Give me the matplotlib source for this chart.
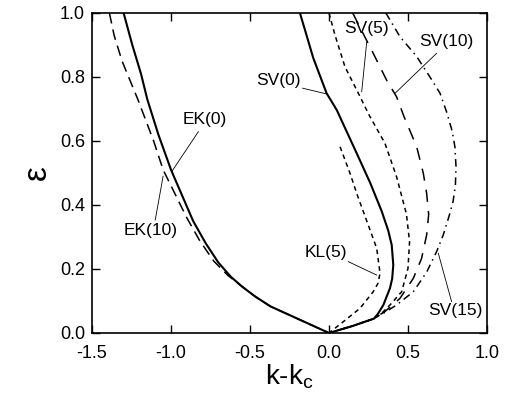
# 色散曲线图 (k-kc, epsilon)
import matplotlib.pyplot as plt

plt.rcParams['font.family'] = ['Liberation Sans', 'DejaVu Sans']

# 曲线数据
ek0_x = [-1.30, -1.245, -1.19, -1.15, -1.08, -1.00, -0.93, -0.86, -0.78, -0.70, -0.62, -0.55, -0.47, -0.37, 0.0]
ek0_y = [1.0, 0.90, 0.81, 0.73, 0.62, 0.51, 0.43, 0.35, 0.28, 0.22, 0.175, 0.145, 0.115, 0.083, 0.0]

ek10_x = [-1.39, -1.36, -1.31, -1.21, -1.11, -1.05, -0.98, -0.90, -0.82, -0.73, -0.64, -0.55, -0.47, -0.37, 0.0]
ek10_y = [1.0, 0.93, 0.85, 0.73, 0.60, 0.51, 0.44, 0.36, 0.29, 0.225, 0.18, 0.145, 0.115, 0.083, 0.0]

sv0_x = [-0.184, -0.152, -0.10, -0.015, 0.049, 0.175, 0.26, 0.334, 0.375, 0.397, 0.407, 0.40, 0.386, 0.344, 0.31, 0.285, 0.15, 0.0]
sv0_y = [1.0, 0.947, 0.86, 0.749, 0.697, 0.562, 0.47, 0.38, 0.32, 0.275, 0.2125, 0.17, 0.14, 0.0875, 0.06, 0.045, 0.022, 0.0]

kl5_x = [0.07, 0.133, 0.18, 0.228, 0.302, 0.323, 0.31, 0.28, 0.196, 0.09, 0.0]
kl5_y = [0.582, 0.499, 0.43, 0.365, 0.265, 0.187, 0.155, 0.129, 0.077, 0.035, 0.0]

sv5_x = [0.0, 0.038, 0.101, 0.186, 0.255, 0.354, 0.428, 0.49, 0.51, 0.50, 0.46, 0.386, 0.33, 0.285, 0.15, 0.0]
sv5_y = [1.0, 0.931, 0.832, 0.749, 0.68, 0.593, 0.488, 0.372, 0.285, 0.202, 0.129, 0.0875, 0.06, 0.045, 0.022, 0.0]

sv10_x = [0.15, 0.28, 0.365, 0.428, 0.475, 0.555, 0.597, 0.618, 0.631, 0.618, 0.586, 0.534, 0.449, 0.354, 0.30, 0.285, 0.15, 0.0]
sv10_y = [1.0, 0.874, 0.79, 0.738, 0.676, 0.582, 0.499, 0.437, 0.37, 0.306, 0.233, 0.171, 0.108, 0.067, 0.05, 0.045, 0.022, 0.0]

sv15_x = [0.36, 0.449, 0.555, 0.639, 0.703, 0.745, 0.78, 0.797, 0.804, 0.80, 0.785, 0.76, 0.723, 0.681, 0.618, 0.534, 0.428, 0.344, 0.30, 0.285, 0.15, 0.0]
sv15_y = [1.0, 0.926, 0.864, 0.80, 0.749, 0.69, 0.63, 0.582, 0.52, 0.46, 0.41, 0.365, 0.306, 0.254, 0.19, 0.129, 0.0875, 0.0615, 0.05, 0.045, 0.022, 0.0]

# 标注: 文字, 文字位置, 引线起点, 引线终点
labels = ['EK(0)', 'EK(10)', 'SV(0)', 'SV(5)', 'SV(10)', 'KL(5)', 'SV(15)']
label_pos = [(-0.785, 0.666), (-1.127, 0.32), (-0.317, 0.7875), (0.239, 0.952), (0.745, 0.91), (-0.021, 0.2516), (0.797, 0.069)]
leader_from = [(-0.827, 0.629), (-1.10, 0.353), (-0.167, 0.765), (0.239, 0.91), (0.681, 0.874), (0.122, 0.223), (0.776, 0.098)]
leader_to = [(-0.996, 0.504), (-1.05, 0.49), (-0.015, 0.747), (0.207, 0.754), (0.418, 0.749), (0.302, 0.181), (0.692, 0.249)]

xticks = [-1.5, -1.0, -0.5, 0.0, 0.5, 1.0]
yticks = [0.0, 0.2, 0.4, 0.6, 0.8, 1.0]

fig = plt.figure(figsize=(5.07, 4.01), dpi=100)
ax = fig.add_axes([0.1815, 0.1696, 0.779, 0.798])

ax.plot(ek0_x, ek0_y, color='black', lw=1.5)
ax.plot(ek10_x, ek10_y, color='black', lw=1.1, dashes=(7, 4))
ax.plot(sv0_x, sv0_y, color='black', lw=1.5)
ax.plot(kl5_x, kl5_y, color='black', lw=1.1, dashes=(3, 2.5))
ax.plot(sv5_x, sv5_y, color='black', lw=1.1, dashes=(3, 2.5))
ax.plot(sv10_x, sv10_y, color='black', lw=1.1, dashes=(8, 6))
ax.plot(sv15_x, sv15_y, color='black', lw=1.1, dashes=(5, 3, 1, 3))

for txt, p, a, b in zip(labels, label_pos, leader_from, leader_to):
    ax.text(p[0], p[1], txt, fontsize=12.5, ha='center', va='center')
    ax.plot([a[0], b[0]], [a[1], b[1]], color='black', lw=0.6)

ax.set_xlim(-1.5, 1.0)
ax.set_ylim(0.0, 1.0)
ax.set_xticks(xticks)
ax.set_yticks(yticks)
ax.set_xticklabels(['%.1f' % v for v in xticks])
ax.set_yticklabels(['%.1f' % v for v in yticks])
ax.tick_params(direction='in', length=6, width=1, top=True, right=True, labelsize=13)
ax.tick_params(axis='x', pad=9)
ax.tick_params(axis='y', pad=5)
for s in ax.spines.values():
    s.set_linewidth(1.2)

ax.set_xlabel(r'k-k$_\mathregular{c}$', fontsize=20, labelpad=0)
ax.set_ylabel('ε', fontsize=24, labelpad=5)

fig.savefig('out.png', dpi=100)
